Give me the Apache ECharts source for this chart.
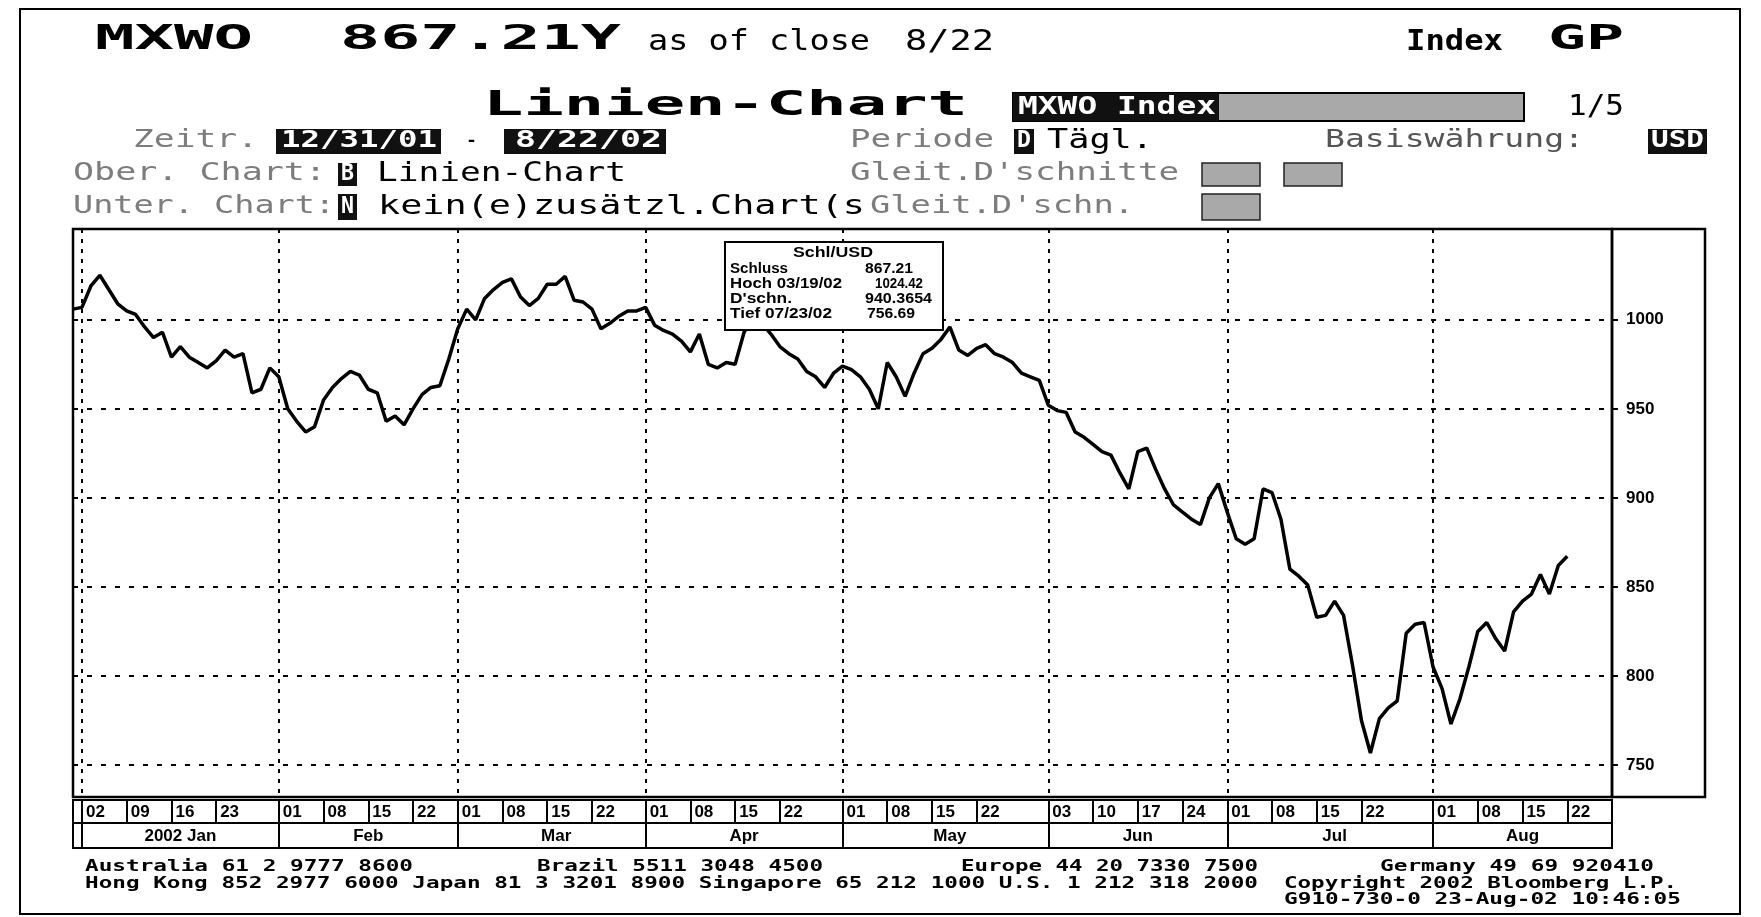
<!DOCTYPE html>
<html>
<head>
<meta charset="utf-8">
<title>MXWO Linien-Chart</title>
<script src="https://cdn.jsdelivr.net/npm/echarts@6/dist/echarts.min.js"></script>
<style>
    html, body { margin: 0; padding: 0; background: #fff; }
    #main { width: 1761px; height: 917px; }
</style>
</head>
<body>
<div id="main"></div>
<script>
// Schlusskurse MXWO Index (USD), ein Wert pro Handelstag ab 31.12.2001
var closeValues = [
    1006,
    // Jan
    1007, 1019, 1025, 1017, 1009, 1005, 1003, 996, 990, 993, 979, 985, 979, 976, 973, 977, 983, 979, 981, 959, 961, 973,
    // Feb
    968, 950, 943, 937, 940, 955, 962, 967, 971, 969, 961, 959, 943, 946, 941, 950, 958, 962, 963, 978,
    // Mar
    995, 1006, 1000, 1012, 1017, 1021, 1023, 1013, 1008, 1012, 1020, 1020, 1024.42, 1011, 1010, 1006, 995, 998, 1002, 1005, 1005,
    // Apr
    1007, 997, 994, 992, 988, 982, 992, 975, 973, 976, 975, 993, 1001, 998, 992, 985, 981, 978, 971, 968, 962, 970,
    // May
    974, 972, 968, 961, 950, 976, 968, 957, 970, 981, 984, 989, 996, 983, 980, 984, 986, 981, 979, 976, 970, 968, 966,
    // Jun
    952, 949, 948, 937, 934, 930, 926, 924, 914, 905, 926, 928, 916, 905, 896, 892, 888, 885, 900, 908,
    // Jul
    892, 877, 874, 877, 905, 903, 888, 860, 856, 851, 833, 834, 842, 834, 806, 775, 756.69, 776, 782, 786, 824, 829, 830,
    // Aug
    805, 793, 773, 787, 805, 825, 830, 821, 814, 836, 842, 846, 857, 846, 862, 867.21
];

// Kalender: Wochentage, ohne Feiertage
var firstDay = '2001-12-31';
var lastDay = '2002-08-29';
var holidays = ['2002-01-01'];

// Beschriftung der Datumsleiste
var weekStarts = [
    '2002-01-02', '2002-01-09', '2002-01-16', '2002-01-23',
    '2002-02-01', '2002-02-08', '2002-02-15', '2002-02-22',
    '2002-03-01', '2002-03-08', '2002-03-15', '2002-03-22',
    '2002-04-01', '2002-04-08', '2002-04-15', '2002-04-22',
    '2002-05-01', '2002-05-08', '2002-05-15', '2002-05-22',
    '2002-06-03', '2002-06-10', '2002-06-17', '2002-06-24',
    '2002-07-01', '2002-07-08', '2002-07-15', '2002-07-22',
    '2002-08-01', '2002-08-08', '2002-08-15', '2002-08-22'
];
var monthStarts = ['2002-01-02', '2002-02-01', '2002-03-01', '2002-04-01', '2002-05-01', '2002-06-03', '2002-07-01', '2002-08-01'];
var monthNames = ['2002 Jan', 'Feb', 'Mar', 'Apr', 'May', 'Jun', 'Jul', 'Aug'];
var yTicks = [750, 800, 850, 900, 950, 1000];

function tradingDays(from, to) {
    var out = [];
    var d = new Date(from + 'T00:00:00Z');
    var end = new Date(to + 'T00:00:00Z');
    while (d <= end) {
        var wd = d.getUTCDay();
        var s = d.toISOString().slice(0, 10);
        if (wd !== 0 && wd !== 6 && holidays.indexOf(s) < 0) out.push(s);
        d.setUTCDate(d.getUTCDate() + 1);
    }
    return out;
}

var days = tradingDays(firstDay, lastDay);

// Monatsnamen mittig unter dem Monat
var monthMid = monthStarts.map(function (s, i) {
    var a = days.indexOf(s);
    var b = i + 1 < monthStarts.length ? days.indexOf(monthStarts[i + 1]) : days.length - 1;
    return days[Math.round((a + b) / 2)];
});

// Texte und Kaesten rund um das Chart
var ctx = document.createElement('canvas').getContext('2d');
var graphics = [];

function addText(s, x, y, w, font, color, z) {
    ctx.font = font;
    var mw = ctx.measureText(s).width;
    graphics.push({
        type: 'text', x: x, y: y, scaleX: w / mw, z: z || 10,
        style: {
            text: s, font: font, fill: color || '#000',
            align: 'left', verticalAlign: 'middle', textAlign: 'left', textVerticalAlign: 'middle'
        }
    });
}

function addBox(x, y, w, h, fill, stroke, lw, z) {
    graphics.push({
        type: 'rect', z: z || 5,
        shape: { x: x, y: y, width: w, height: h },
        style: { fill: fill || 'none', stroke: stroke || null, lineWidth: lw || 0 }
    });
}

var big = "bold 34px 'DejaVu Sans Mono'";
var mid = "29px 'DejaVu Sans Mono'";
var midBold = "bold 29px 'DejaVu Sans Mono'";
var norm = "27px 'DejaVu Sans Mono'";
var thin = "24px 'DejaVu Sans Mono'";
var boxFont = "bold 23px 'DejaVu Sans Mono'";
var gray = '#7d7d7d';
var dither = '#a9a9a9';

// Rahmen
addBox(20, 9, 1720, 905, 'none', '#000', 2);

// Kopfzeile
addText('MXWO', 95, 40, 158, big);
addText('867.21Y', 340, 40, 281, big);
addText('as of close', 648, 42, 222, mid);
addText('8/22', 905, 42, 89, mid);
addText('Index', 1406, 42, 97, midBold);
addText('GP', 1548, 40, 76, big);

addText('Linien-Chart', 483, 106, 485, big);
addBox(1013, 93, 511, 28, dither, '#000', 2);
addBox(1013, 93, 206, 28, '#111');
addText('MXWO Index', 1018, 107, 198, "bold 25px 'DejaVu Sans Mono'", '#fff');
addText('1/5', 1568, 107, 56, mid);

addText('Zeitr.', 133, 141, 125, thin, gray);
addBox(276, 129, 165, 25, '#111');
addText('12/31/01', 281, 141, 156, boxFont, '#fff');
addText('-', 465, 141, 13, mid);
addBox(504, 129, 162, 25, '#111');
addText('8/22/02', 515, 141, 147, boxFont, '#fff');
addText('Periode', 850, 141, 144, thin, gray);
addBox(1014, 129, 20, 25, '#111');
addText('D', 1017, 141, 14, boxFont, '#fff');
addText('Tägl.', 1047, 141, 106, norm);
addText('Basiswährung:', 1325, 141, 259, thin, '#555');
addBox(1648, 129, 59, 25, '#111');
addText('USD', 1651, 141, 53, boxFont, '#fff');

addText('Ober. Chart:', 73, 174, 253, thin, gray);
addBox(338, 163, 19, 23, '#111');
addText('B', 341, 174, 13, boxFont, '#fff');
addText('Linien-Chart', 377, 174, 249, norm);
addText("Gleit.D'schnitte", 850, 174, 329, thin, gray);
addBox(1202, 163, 58, 23, dither, '#222', 1.5);
addBox(1284, 163, 58, 23, dither, '#222', 1.5);

addText('Unter. Chart:', 73, 207, 262, thin, gray);
addBox(338, 194, 19, 26, '#111');
addText('N', 341, 207, 13, boxFont, '#fff');
addText('kein(e)zusätzl.Chart(s', 378, 207, 487, norm);
addText("Gleit.D'schn.", 870, 207, 264, thin, gray);
addBox(1202, 194, 58, 26, dither, '#222', 1.5);

// Kasten fuer die Y-Beschriftung
addBox(1612, 229, 93, 568, 'none', '#000', 2.5);

// Info-Kasten im Chart
var tt = "bold 14px 'Liberation Sans'";
addBox(725, 242, 218, 88, '#fff', '#000', 2, 100);
addText('Schl/USD', 793, 253, 80, tt, '#000', 101);
addText('Schluss', 730, 269, 58, tt, '#000', 101);
addText('867.21', 865, 269, 48, tt, '#000', 101);
addText('Hoch 03/19/02', 730, 284, 112, tt, '#000', 101);
addText('1024.42', 875, 284, 48, tt, '#000', 101);
addText("D'schn.", 730, 299, 62, tt, '#000', 101);
addText('940.3654', 865, 299, 67, tt, '#000', 101);
addText('Tief 07/23/02', 730, 314, 102, tt, '#000', 101);
addText('756.69', 867, 314, 48, tt, '#000', 101);

// Fusszeile
var foot = "bold 16px 'DejaVu Sans Mono'";
addText('Australia 61 2 9777 8600', 85, 867, 328, foot);
addText('Brazil 5511 3048 4500', 537, 867, 286, foot);
addText('Europe 44 20 7330 7500', 961, 867, 297, foot);
addText('Germany 49 69 920410', 1380, 867, 274, foot);
addText('Hong Kong 852 2977 6000 Japan 81 3 3201 8900 Singapore 65 212 1000 U.S. 1 212 318 2000', 85, 884, 1173, foot);
addText('Copyright 2002 Bloomberg L.P.', 1284, 884, 393, foot);
addText('G910-730-0 23-Aug-02 10:46:05', 1284, 900, 397, foot);

function isWeekStart(i, v) { return weekStarts.indexOf(v) >= 0; }
function isMonthStart(i, v) { return monthStarts.indexOf(v) >= 0; }
function isMonthMid(i, v) { return monthMid.indexOf(v) >= 0; }

var myChart = echarts.init(document.getElementById('main'));

option = {
    animation: false,
    backgroundColor: '#fff',
    grid: [
        { left: 73, top: 229, width: 1539, height: 568, show: true, borderColor: '#000', borderWidth: 2.5, outerBoundsMode: 'none', containLabel: false },
        { left: 73, top: 800, width: 1539, height: 23, show: true, borderColor: '#000', borderWidth: 2, outerBoundsMode: 'none', containLabel: false },
        { left: 73, top: 823, width: 1539, height: 25, show: true, borderColor: '#000', borderWidth: 2, outerBoundsMode: 'none', containLabel: false }
    ],
    xAxis: [
        {
            gridIndex: 0,
            type: 'category',
            data: days,
            boundaryGap: false,
            axisLine: { show: false },
            axisTick: { show: false },
            axisLabel: { show: false },
            splitLine: {
                show: true,
                interval: isMonthStart,
                lineStyle: { color: '#000', width: 2, type: [4, 6] }
            }
        },
        {
            gridIndex: 1,
            type: 'category',
            data: days,
            boundaryGap: false,
            axisLine: { show: false },
            axisTick: {
                show: true, inside: true, length: 23, interval: isWeekStart,
                lineStyle: { color: '#000', width: 2 }
            },
            axisLabel: {
                inside: true, interval: isWeekStart, margin: 2,
                align: 'left', padding: [0, 0, 0, 4],
                color: '#000', fontSize: 17, fontWeight: 'bold', fontFamily: 'Liberation Sans',
                formatter: function (v) { return v.slice(8); }
            },
            splitLine: { show: false }
        },
        {
            gridIndex: 2,
            type: 'category',
            data: days,
            boundaryGap: false,
            axisLine: { show: false },
            axisTick: {
                show: true, inside: true, length: 25, interval: isMonthStart,
                lineStyle: { color: '#000', width: 2 }
            },
            axisLabel: {
                inside: true, interval: isMonthMid, margin: 3,
                color: '#000', fontSize: 17, fontWeight: 'bold', fontFamily: 'Liberation Sans',
                formatter: function (v) { return monthNames[monthMid.indexOf(v)]; }
            },
            splitLine: { show: false }
        }
    ],
    yAxis: [
        {
            gridIndex: 0,
            type: 'value',
            position: 'right',
            min: 732,
            max: 1051,
            axisLine: { show: false },
            axisTick: {
                show: true, length: 6, customValues: yTicks,
                lineStyle: { color: '#000', width: 2 }
            },
            axisLabel: {
                customValues: yTicks, margin: 14,
                color: '#000', fontSize: 17, fontWeight: 'bold', fontFamily: 'Liberation Sans',
                formatter: function (v) { return String(v); }
            },
            splitLine: {
                show: true,
                lineStyle: { color: '#000', width: 2, type: [5, 9] }
            }
        },
        { gridIndex: 1, type: 'value', show: false },
        { gridIndex: 2, type: 'value', show: false }
    ],
    graphic: graphics,
    series: [
        {
            name: 'MXWO',
            type: 'line',
            xAxisIndex: 0,
            yAxisIndex: 0,
            data: closeValues,
            symbol: 'none',
            lineStyle: { color: '#000', width: 3.5 },
            z: 5
        }
    ]
};

myChart.setOption(option);
</script>
</body>
</html>
